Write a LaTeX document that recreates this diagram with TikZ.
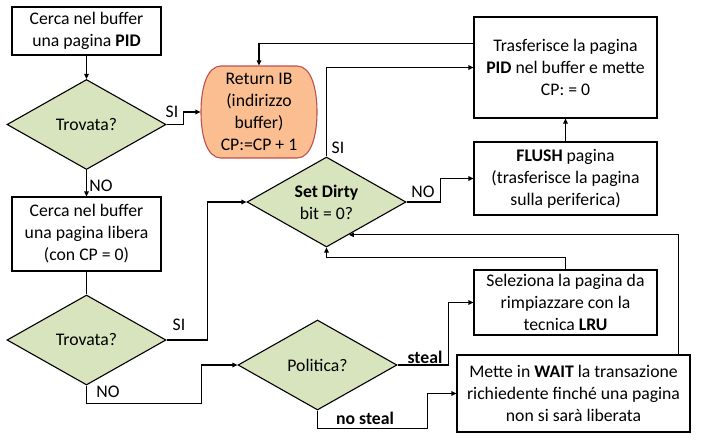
\documentclass[tikz,border=0pt]{standalone}
\usepackage{fontspec}
\setmainfont{Carlito}
\usetikzlibrary{shapes.geometric,arrows.meta,calc}
\definecolor{dgreen}{RGB}{215,228,189}
\definecolor{orfill}{RGB}{250,190,145}
\definecolor{ordraw}{RGB}{192,80,77}
\begin{document}
\begin{tikzpicture}[x=1pt,y=-1pt, font=\fontsize{17.7}{22}\selectfont, line width=1.1pt,
 box/.style={draw, inner sep=0, align=center},
 dia/.style={draw, diamond, fill=dgreen, inner sep=0, aspect=1.77, minimum width=159pt, minimum height=90pt, align=center},
 arr/.style={-{Triangle[length=5pt,width=4.5pt]}},
 lab/.style={inner sep=0}]
\useasboundingbox (0,0) rectangle (701,440);
\node[box, minimum width=149pt, minimum height=48pt] (b1) at (86.5,31) {Cerca nel buffer\\una pagina \textbf{PID}};
\node[dia] (d1) at (86.5,124.5) {Trovata?};
\coordinate (retc) at (259,112);
\draw[ordraw, fill=orfill, shift={(retc)}] (-38,-46) -- (38,-46) .. controls (52,-46) and (58,-24) .. (58,0) .. controls (58,24) and (52,46) .. (38,46) -- (-38,46) .. controls (-52,46) and (-58,24) .. (-58,0) .. controls (-58,-24) and (-52,-46) .. (-38,-46) -- cycle;
\node[minimum width=116pt, minimum height=92pt, inner sep=0, align=center] (ret) at (retc) {Return IB\\(indirizzo\\buffer)\\CP:=CP + 1};
\node[box, minimum width=149pt, minimum height=74pt] (b2) at (86.5,234) {Cerca nel buffer\\una pagina libera\\(con CP = 0)};
\node[dia] (d2) at (86.5,340) {Trovata?};
\node[dia] (sd) at (326.5,202) {\textbf{Set Dirty}\\bit = 0?};
\node[dia] (pol) at (317.5,365) {Politica?};
\node[box, minimum width=183pt, minimum height=101pt] (tr) at (565.5,67.5) {Trasferisce la pagina\\\textbf{PID} nel buffer e mette\\CP: = 0};
\node[box, minimum width=183pt, minimum height=73pt] (fl) at (565.5,178.5) {\textbf{FLUSH} pagina\\(trasferisce la pagina\\sulla periferica)};
\node[box, minimum width=183pt, minimum height=65pt] (sel) at (565.5,302.5) {Seleziona la pagina da\\rimpiazzare con la\\tecnica \textbf{LRU}};
\node[box, minimum width=233pt, minimum height=77pt] (wt) at (573.5,393.5) {Mette in \textbf{WAIT} la transazione\\richiedente finché una pagina\\non si sarà liberata};

\draw[arr] (b1) -- (d1);
\draw[arr] (d1.east) -- ++(17,0) |- (ret.west);
\node[lab] (l1) at (172,112) {SI};
\draw[arr] (d1) -- (b2);
\node[lab] (l2) at (101,186) {NO};
\draw (b2) -- (d2);
\draw[arr] (d2.east) -- ++(41,0) |- (sd.west);
\node[lab] (l3) at (179,325) {SI};
\draw[arr] (d2.south) -- ++(0,18) -| ($(pol.west)+(-36,0)$) -- (pol.west);
\node[lab] (l4) at (108,392) {NO};
\draw[arr] (sd.north) |- (tr.west);
\node[lab] (l5) at (338,148) {SI};
\draw[arr] ($(tr.north west)+(0,27)$) -| (ret.north);
\draw[arr] (sd.east) -- ++(34,0) |- (fl.west);
\node[lab] (l6) at (423,192) {NO};
\draw[arr] (fl) -- (tr);
\draw[arr] (sel.north) -- ++(0,-12) -| (sd.south);
\coordinate (sdp) at ($(sd.east)!0.72!(sd.south)$);
\draw[arr] ($(wt.north east)+(-12,0)$) |- (sdp);
\draw[arr] (pol.east) -- ++(51,0) |- (sel.west);
\node[lab] (l7) at (425,357) {\textbf{steal}};
\draw[arr] (pol.south) -- ++(0,18) -| ($(wt.west)+(-29,0)$) -- (wt.west);
\node[lab] (l8) at (365,418) {\textbf{no steal}};
\end{tikzpicture}
\end{document}
